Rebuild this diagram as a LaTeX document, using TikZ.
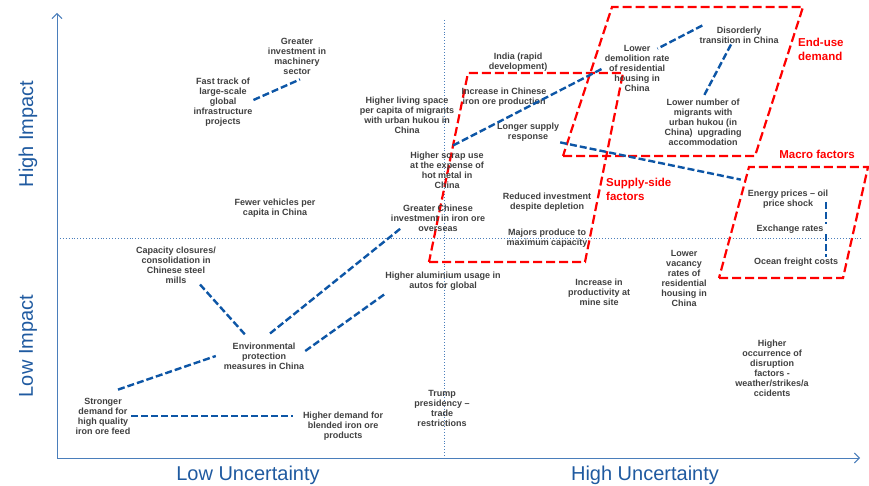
\documentclass[tikz,border=0pt]{standalone}
\usepackage{fontspec}
\setmainfont{Liberation Sans}
\usetikzlibrary{calc}
\usetikzlibrary{arrows.meta}

\definecolor{axisblue}{HTML}{4A7EBB}
\definecolor{labelblue}{HTML}{1F5AA0}
\definecolor{linkblue}{HTML}{0D56A6}
\definecolor{txtgray}{HTML}{404040}
\definecolor{zonered}{HTML}{FF0000}

\begin{document}
\begin{tikzpicture}[x=1pt, y=-1pt,
  lbl/.style={font=\bfseries\fontsize{9}{10}\selectfont, text=txtgray, align=center, inner sep=1pt},
  tag/.style={font=\bfseries\fontsize{11.5}{14}\selectfont, text=zonered, align=left, inner sep=0pt},
  axlbl/.style={font=\fontsize{20}{24}\selectfont, text=labelblue},
  link/.style={linkblue, line width=2.4pt, dash pattern=on 7pt off 3pt},
  zone/.style={zonered, line width=2.2pt, dash pattern=on 9pt off 4pt},
  mid/.style={axisblue, line width=0.9pt, dotted}]
\useasboundingbox (0,0) rectangle (869,486);

% axes and quadrant lines
\coordinate (O) at (57,458);
\coordinate (AY) at (57,13); \coordinate (BX) at (860,458);
\draw[axisblue, line width=0.9pt, {Straight Barb[length=5pt,width=10pt]}-{Straight Barb[length=5pt,width=10pt]}] (AY) -- (O) -- (BX);
\draw[mid] (444,20) -- (444,458);
\draw[mid] (57,238) -- (862,238);

\node[axlbl, rotate=90] (hiimp) at (28,134) {High Impact};
\node[axlbl, rotate=90] (loimp) at (28,346) {Low Impact};
\node[axlbl] (lounc) at (248,475) {Low Uncertainty};
\node[axlbl] (hiunc) at (645,475) {High Uncertainty};

% red groups
\draw[zone] (429,262) -- (585,262) -- (623,73) -- (468,73) -- cycle;
\draw[zone] (563,156) -- (755,156) -- (803,7) -- (612,7) -- cycle;
\draw[zone] (719,278) -- (843,278) -- (868,167) -- (749,167) -- cycle;

\node[tag, anchor=west] (enduse) at (798,49) {End-use\\demand};
\node[tag] (macro) at (817,154) {Macro factors};
\node[tag, anchor=west] (supply) at (606,189) {Supply-side\\factors};

% factors
\node[lbl] (greatmach) at (297,56) {Greater\\investment in\\machinery\\sector};
\node[lbl] (fasttrack) at (223,102) {Fast track of\\large-scale\\global\\infrastructure\\projects};
\node[lbl] (livspace) at (407,115) {Higher living space\\per capita of migrants\\with urban hukou in\\China};
\node[lbl] (scrap) at (447,170) {Higher scrap use\\at the expense of\\hot metal in\\China};
\node[lbl] (india) at (518,62) {India (rapid\\development)};
\node[lbl] (incprod) at (504,97) {Increase in Chinese\\iron ore production};
\node[lbl] (longer) at (528,132) {Longer supply\\response};
\node[lbl] (demolition) at (637,68) {Lower\\demolition rate\\of residential\\housing in\\China};
\node[lbl] (disorderly) at (739,35) {Disorderly\\transition in China};
\node[lbl] (fewmigr) at (703,122) {Lower number of\\migrants with\\urban hukou (in\\China)\ \ upgrading\\accommodation};
\node[lbl] (energy) at (788,199) {Energy prices -- oil\\price shock};
\node[lbl] (exchange) at (790,229) {Exchange rates};
\node[lbl] (ocean) at (796,262) {Ocean freight costs};
\node[lbl] (reduced) at (547,202) {Reduced investment\\despite depletion};
\node[lbl] (majors) at (547,238) {Majors produce to\\maximum capacity};
\node[lbl] (greatinv) at (438,218) {Greater Chinese\\investment in iron ore\\overseas};
\node[lbl] (alum) at (443,281) {Higher aluminium usage in\\autos for global};
\node[lbl] (vehicles) at (275,208) {Fewer vehicles per\\capita in China};
\node[lbl] (capacity) at (176,265) {Capacity closures/\\consolidation in\\Chinese steel\\mills};
\node[lbl] (environ) at (264,356) {Environmental\\protection\\measures in China};
\node[lbl] (stronger) at (103,416) {Stronger\\demand for\\high quality\\iron ore feed};
\node[lbl] (blended) at (343,426) {Higher demand for\\blended iron ore\\products};
\node[lbl] (trump) at (442,408) {Trump\\presidency --\\trade\\restrictions};
\node[lbl] (productivity) at (599,292) {Increase in\\productivity at\\mine site};
\node[lbl] (vacancy) at (684,278) {Lower\\vacancy\\rates of\\residential\\housing in\\China};
\node[lbl] (disruption) at (772,368) {Higher\\occurrence of\\disruption\\factors -\\weather/strikes/a\\ccidents};

% links
\draw[link] ([yshift=2pt]fasttrack.east) -- ([xshift=3pt,yshift=-4pt]greatmach.south);
\draw[link] ([xshift=4pt]disorderly.north west) -- ([xshift=-13pt,yshift=-5pt]demolition.north east);
\draw[link] ([xshift=-8pt]disorderly.south) -- (fewmigr.north);
\draw[link] ([xshift=6pt,yshift=5pt]scrap.north) -- (demolition.west);
\draw[link] (longer.south east) -- ([xshift=-6pt,yshift=9pt]energy.north west);
\draw[link] ([xshift=-3pt,yshift=-3pt]energy.east) -- ([xshift=-3pt]energy.east |- exchange.north);
\draw[link] ([xshift=-3pt]energy.east |- exchange.south) -- ([xshift=-3pt]energy.east |- ocean.north);
\draw[link] ([xshift=24pt]capacity.south) -- ([xshift=-19pt,yshift=7pt]environ.north);
\draw[link] ([xshift=6pt,yshift=8pt]environ.north) -- ([xshift=12pt,yshift=5pt]greatinv.south west);
\draw[link] ([yshift=5pt]environ.east) -- ([yshift=-3pt]alum.south west);
\draw[link] ([xshift=15pt,yshift=7pt]stronger.north) -- ([xshift=-7pt]environ.west);
\draw[link, shorten >=9pt] (stronger.east) -- (stronger.east -| blended.west);

\end{tikzpicture}
\end{document}
